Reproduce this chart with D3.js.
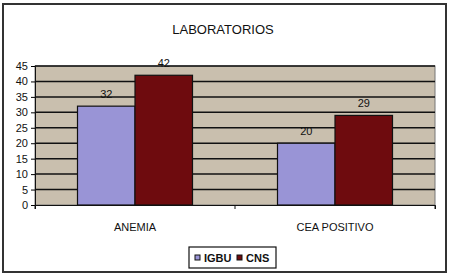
<!DOCTYPE html>
<html>
<head>
<meta charset="utf-8">
<script src="https://cdn.jsdelivr.net/npm/d3@7"></script>
<style>
  body { margin: 0; background: #fff; }
  text { font-family: Arial, "Liberation Sans", sans-serif; fill: #111; }
</style>
</head>
<body>
<div id="chart"></div>
<script>
var categories = ["ANEMIA", "CEA POSITIVO"];
var seriesNames = ["IGBU", "CNS"];
var igbu = [32, 20];
var cns = [42, 29];
var yTicks = [0, 5, 10, 15, 20, 25, 30, 35, 40, 45];
var colors = { IGBU: "#9994d6", CNS: "#6e0b0e" };

var width = 450, height = 280;
var svg = d3.select("#chart").append("svg")
    .attr("width", width)
    .attr("height", height);

// outer frame
svg.append("rect")
    .attr("x", 3).attr("y", 4)
    .attr("width", 443).attr("height", 268)
    .attr("fill", "#fff")
    .attr("stroke", "#333")
    .attr("stroke-width", 2);

svg.append("text")
    .attr("x", 223).attr("y", 34)
    .attr("text-anchor", "middle")
    .attr("font-size", 13)
    .text("LABORATORIOS");

var pLeft = 35, pRight = 435, pTop = 66, pBottom = 205;

var x0 = d3.scaleBand().domain(categories).range([pLeft, pRight]);
var x1 = d3.scaleBand().domain(seriesNames).range([0, 115]);
var y = d3.scaleLinear().domain([0, 45]).range([pBottom, pTop]);

svg.append("rect")
    .attr("x", pLeft).attr("y", pTop)
    .attr("width", pRight - pLeft).attr("height", pBottom - pTop)
    .attr("fill", "#c9bfae")
    .attr("stroke", "#777");

svg.append("g").selectAll("line")
    .data(yTicks.slice(1))
    .enter().append("line")
    .attr("x1", pLeft).attr("x2", pRight)
    .attr("y1", function(d){ return y(d); })
    .attr("y2", function(d){ return y(d); })
    .attr("stroke", "#111")
    .attr("stroke-width", 1.5);

var rows = categories.map(function(c, i){
    return { cat: c, values: [ { name: "IGBU", v: igbu[i] }, { name: "CNS", v: cns[i] } ] };
});

var groups = svg.append("g").selectAll("g")
    .data(rows)
    .enter().append("g")
    .attr("transform", function(d){ return "translate(" + (x0(d.cat) + (x0.bandwidth() - 115) / 2) + ",0)"; });

groups.selectAll("rect")
    .data(function(d){ return d.values; })
    .enter().append("rect")
    .attr("x", function(d){ return x1(d.name); })
    .attr("width", x1.bandwidth())
    .attr("y", function(d){ return y(d.v); })
    .attr("height", function(d){ return pBottom - y(d.v); })
    .attr("fill", function(d){ return colors[d.name]; })
    .attr("stroke", "#111")
    .attr("stroke-width", 1.2);

groups.selectAll("text")
    .data(function(d){ return d.values; })
    .enter().append("text")
    .attr("x", function(d){ return x1(d.name) + x1.bandwidth() / 2; })
    .attr("y", function(d){ return y(d.v) - 8; })
    .attr("text-anchor", "middle")
    .attr("font-size", 11)
    .text(function(d){ return d.v; });

var yAxis = d3.axisLeft(y).tickValues(yTicks).tickSize(4).tickPadding(3);
svg.append("g")
    .attr("transform", "translate(" + pLeft + ",0)")
    .call(yAxis)
    .call(function(g){
        g.selectAll("text").attr("font-size", 11).attr("font-family", "Arial, Liberation Sans, sans-serif");
        g.select(".domain").attr("stroke", "#111");
    });

var xAxis = d3.axisBottom(x0).tickSize(4).tickPadding(14).tickFormat(function(d){ return d; });
svg.append("g")
    .attr("transform", "translate(0," + pBottom + ")")
    .call(xAxis)
    .call(function(g){
        g.selectAll("text").attr("font-size", 11).attr("font-family", "Arial, Liberation Sans, sans-serif");
        g.selectAll(".tick line").remove();
        g.select(".domain").attr("stroke", "#111");
    });

// tick marks between categories and at ends
svg.append("g").selectAll("line")
    .data([pLeft, x0("CEA POSITIVO"), pRight])
    .enter().append("line")
    .attr("x1", function(d){ return d; }).attr("x2", function(d){ return d; })
    .attr("y1", pBottom).attr("y2", pBottom + 4)
    .attr("stroke", "#111");

// legend
var legend = svg.append("g").attr("transform", "translate(189,247)");
legend.append("rect")
    .attr("width", 87).attr("height", 21)
    .attr("fill", "#fff").attr("stroke", "#111").attr("stroke-width", 1.2);
var li = legend.selectAll("g.item")
    .data(seriesNames)
    .enter().append("g")
    .attr("class", "item")
    .attr("transform", function(d, i){ return "translate(" + (6 + i * 42) + ",0)"; });
li.append("rect")
    .attr("x", 0).attr("y", 8)
    .attr("width", 5).attr("height", 5)
    .attr("fill", function(d){ return colors[d]; })
    .attr("stroke", "#111");
li.append("text")
    .attr("x", 9).attr("y", 15)
    .attr("font-size", 11)
    .attr("font-weight", "bold")
    .text(function(d){ return d; });
</script>
</body>
</html>
